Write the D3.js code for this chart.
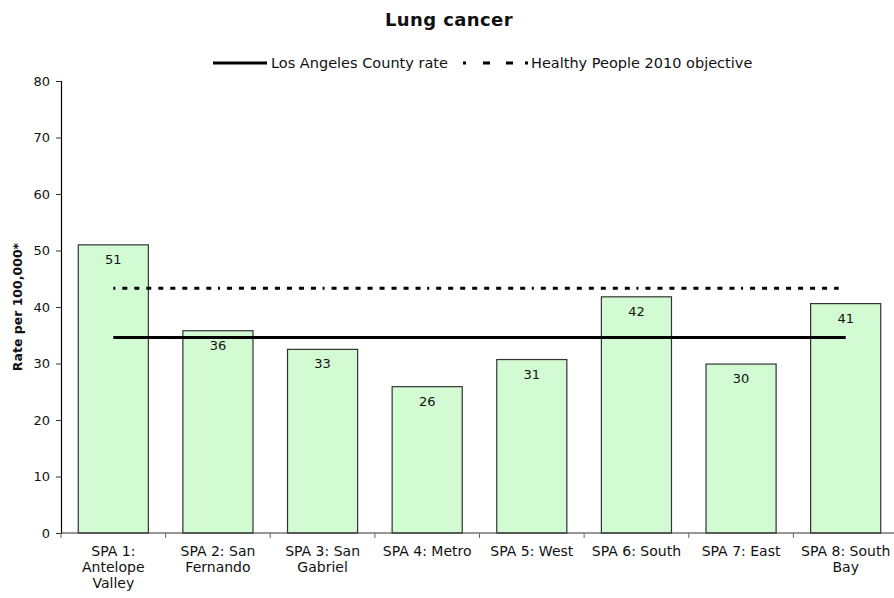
<!DOCTYPE html>
<html><head><meta charset="utf-8">
<script src="https://cdn.jsdelivr.net/npm/d3@7"></script>
<style>body{margin:0;background:#fff;} text{font-family:"DejaVu Sans",Verdana,sans-serif;}</style>
</head><body>
<svg id="c" width="894" height="598"></svg>
<script>
const categories = [["SPA 1:","Antelope","Valley"],["SPA 2: San","Fernando"],["SPA 3: San","Gabriel"],["SPA 4: Metro"],["SPA 5: West"],["SPA 6: South"],["SPA 7: East"],["SPA 8: South","Bay"]];
const catKeys = ["SPA 1","SPA 2","SPA 3","SPA 4","SPA 5","SPA 6","SPA 7","SPA 8"];
const values = [51.0, 35.8, 32.5, 25.9, 30.7, 41.8, 29.9, 40.6];
const valueLabels = ["51","36","33","26","31","42","30","41"];
const countyRate = 34.6;
const hpObjective = 43.3;
const yTicks = [0,10,20,30,40,50,60,70,80];

const svg = d3.select("#c");
const pLeft = 61, pRight = 898, pTop = 81, pBottom = 533;
const x = d3.scaleBand().domain(catKeys).range([pLeft, pRight]).paddingInner(0.33).paddingOuter(0.165);
const xc = d3.scaleBand().domain(catKeys).range([pLeft, pRight]);
const y = d3.scaleLinear().domain([0, 80]).range([pBottom, pTop]);
const cx = k => xc(k) + xc.bandwidth()/2;

svg.append("text").attr("x", 449).attr("y", 26).attr("text-anchor","middle")
  .attr("font-size", 18).attr("font-weight","bold").attr("letter-spacing",0.4).attr("fill","#111").text("Lung cancer");

svg.append("text").attr("transform", `translate(22,${(pTop+pBottom)/2}) rotate(-90)`)
  .attr("text-anchor","middle").attr("font-size", 12.5).attr("font-weight","bold").attr("fill","#111").text("Rate per 100,000*");

// bars
svg.selectAll("rect.bar").data(values).enter().append("rect")
  .attr("x", (d,i)=>x(catKeys[i])).attr("y", d=>y(d))
  .attr("width", x.bandwidth()).attr("height", d=>pBottom - y(d))
  .attr("fill","#d3fbd3").attr("stroke","#333").attr("stroke-width",1.2);

svg.selectAll("text.vl").data(values).enter().append("text")
  .attr("x",(d,i)=>x(catKeys[i]) + x.bandwidth()/2).attr("y", d=>y(d)+19)
  .attr("text-anchor","middle").attr("font-size",13).attr("fill","#111")
  .text((d,i)=>valueLabels[i]);

// reference lines (drawn as per-category segments like the original)
for (let i = 0; i < catKeys.length - 1; i++) {
  const a = cx(catKeys[i]), b = cx(catKeys[i+1]) - (i === catKeys.length - 2 ? 7 : 0);
  svg.append("line").attr("x1",a).attr("x2",b).attr("y1",y(hpObjective)).attr("y2",y(hpObjective))
    .attr("stroke","#000").attr("stroke-width",3).attr("stroke-dasharray","5,7").attr("stroke-dashoffset",3);
}
svg.append("line").attr("x1",cx(catKeys[0])).attr("x2",cx(catKeys[7])).attr("y1",y(countyRate)).attr("y2",y(countyRate))
  .attr("stroke","#000").attr("stroke-width",3);

// y axis
const ya = svg.append("g").attr("transform",`translate(${pLeft},0)`)
  .call(d3.axisLeft(y).tickValues(yTicks).tickSize(5).tickPadding(6));
ya.select(".domain").attr("stroke","#000").attr("stroke-width",1.2);
ya.selectAll("text").attr("font-size",13).attr("fill","#111").style("font-family","DejaVu Sans");
ya.selectAll("line").attr("stroke","#333");

// x axis
svg.append("line").attr("x1",pLeft).attr("x2",pRight).attr("y1",pBottom).attr("y2",pBottom).attr("stroke","#333").attr("stroke-width",1.2);
catKeys.forEach((k,i)=>{
  svg.append("line").attr("x1",xc(k)).attr("x2",xc(k)).attr("y1",pBottom).attr("y2",pBottom+5).attr("stroke","#666");
});
const xl = svg.selectAll("text.xl").data(categories).enter().append("text")
  .attr("text-anchor","middle").attr("font-size",14).attr("fill","#111");
xl.each(function(lines,i){
  const t = d3.select(this);
  lines.forEach((ln,j)=>t.append("tspan").attr("x", cx(catKeys[i])).attr("y", 556 + j*16).text(ln));
});

// legend
svg.append("line").attr("x1",213).attr("x2",267).attr("y1",63).attr("y2",63).attr("stroke","#000").attr("stroke-width",3);
svg.append("text").attr("x",271).attr("y",68).attr("font-size",14.5).attr("fill","#111").text("Los Angeles County rate");
svg.append("line").attr("x1",463).attr("x2",528).attr("y1",63).attr("y2",63).attr("stroke","#000").attr("stroke-width",3)
  .attr("stroke-dasharray","3,17,7,16,7,12,3");
svg.append("text").attr("x",531).attr("y",68).attr("font-size",14.5).attr("fill","#111").text("Healthy People 2010 objective");
</script>
</body></html>
